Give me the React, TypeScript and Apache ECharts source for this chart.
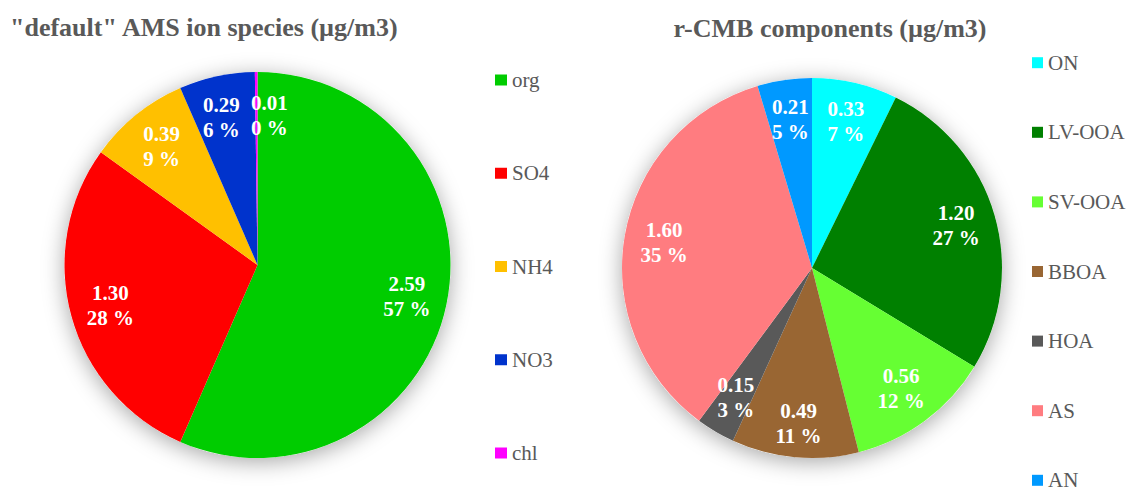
import React, { useEffect, useRef } from "react";
import * as echarts from "echarts";

const leftTitle = '"default" AMS ion species (µg/m3)';
const leftNames = ["org", "SO4", "NH4", "NO3", "chl"];
const leftValues = [2.59, 1.3, 0.39, 0.29, 0.01];
const leftPercents = [57, 28, 9, 6, 0];
const leftColors = ["#00CC00", "#FF0000", "#FFC000", "#0033CC", "#FF00FF"];

const rightTitle = "r-CMB components (µg/m3)";
const rightNames = ["ON", "LV-OOA", "SV-OOA", "BBOA", "HOA", "AS", "AN"];
const rightValues = [0.33, 1.2, 0.56, 0.49, 0.15, 1.6, 0.21];
const rightPercents = [7, 27, 12, 11, 3, 35, 5];
const rightColors = ["#00FFFF", "#008000", "#66FF33", "#996633", "#595959", "#FF7C80", "#0099FF"];

const SERIF = "Liberation Serif";
const GREY = "#595959";
const LABEL_RADIUS = 0.79;

// label nudges (style only), keyed by category name
const labelNudge: Record<string, number[]> = {
  NO3: [-4, 2],
  chl: [13, 3],
  BBOA: [0, 6],
};

function sum(a: number[]) {
  return a.reduce((s, v) => s + v, 0);
}

function buildPie(
  idx: number,
  names: string[],
  values: number[],
  percents: number[],
  colors: string[]
) {
  const center = idx === 0 ? [257.5, 265] : [812, 268];
  const radius = idx === 0 ? 193 : 190;
  const bg = {
    type: "pie",
    name: "bg" + idx,
    center,
    radius: [0, radius],
    silent: true,
    z: 1,
    label: { show: false },
    labelLine: { show: false },
    data: [
      {
        name: "",
        value: 1,
        itemStyle: {
          color: "#ffffff",
          shadowBlur: 22,
          shadowColor: "rgba(0,0,0,0.35)",
          shadowOffsetY: 4,
        },
      },
    ],
  };
  const main = {
    type: "pie",
    center,
    radius: [0, radius],
    startAngle: 90,
    clockwise: true,
    z: 2,
    silent: true,
    label: { show: false },
    labelLine: { show: false },
    data: names.map((n, i) => ({
      name: n,
      value: values[i],
      itemStyle: { color: colors[i] },
    })),
  };
  // label anchors placed through a hidden polar coordinate system sharing the pie's geometry
  let cum = 0;
  const anchors = values.map((v, i) => {
    const mid = cum + v / 2;
    cum += v;
    const nudge = labelNudge[names[i]] || [0, 0];
    return {
      value: [LABEL_RADIUS, mid],
      label: { offset: nudge },
    };
  });
  const labels = {
    type: "scatter",
    coordinateSystem: "polar",
    polarIndex: idx,
    symbolSize: 1,
    z: 3,
    silent: true,
    itemStyle: { color: "rgba(0,0,0,0)", opacity: 1 },
    label: {
      show: true,
      position: "inside",
      color: "#ffffff",
      textBorderWidth: 0,
      fontFamily: SERIF,
      fontWeight: "bold",
      fontSize: 21,
      lineHeight: 25,
      formatter: (p: any) =>
        values[p.dataIndex].toFixed(2) + "\n" + percents[p.dataIndex] + " %",
    },
    data: anchors,
  };
  return [bg, main, labels];
}

export default function App() {
  const ref = useRef<HTMLDivElement>(null);
  useEffect(() => {
    if (!ref.current) return;
    const chart = echarts.init(ref.current, undefined, { renderer: "svg" });
    const legendText = {
      fontFamily: SERIF,
      fontSize: 21,
      color: GREY,
    };
    const titleText = {
      fontFamily: SERIF,
      fontWeight: "bold",
      fontSize: 26,
      lineHeight: 30,
      color: GREY,
    };
    chart.setOption({
      animation: false,
      backgroundColor: "#ffffff",
      textStyle: { fontFamily: SERIF },
      title: [
        { text: leftTitle, left: 10, top: 12, padding: 0, textStyle: titleText },
        { text: rightTitle, left: 830, textAlign: "center", top: 13, padding: 0, textStyle: titleText },
      ],
      polar: [
        { center: [257.5, 265], radius: 193 },
        { center: [812, 268], radius: 190 },
      ],
      angleAxis: [
        { polarIndex: 0, type: "value", min: 0, max: sum(leftValues), startAngle: 90, clockwise: true, show: false },
        { polarIndex: 1, type: "value", min: 0, max: sum(rightValues), startAngle: 90, clockwise: true, show: false },
      ],
      radiusAxis: [
        { polarIndex: 0, type: "value", min: 0, max: 1, show: false },
        { polarIndex: 1, type: "value", min: 0, max: 1, show: false },
      ],
      legend: [
        {
          data: leftNames,
          orient: "vertical",
          left: 495,
          top: 69.5,
          height: 460,
          padding: 0,
          icon: "rect",
          itemWidth: 12,
          itemHeight: 11,
          itemGap: 72.25,
          selectedMode: false,
          textStyle: legendText,
        },
        {
          data: rightNames,
          orient: "vertical",
          left: 1032,
          top: 52.2,
          height: 460,
          padding: 0,
          icon: "rect",
          itemWidth: 11,
          itemHeight: 11,
          itemGap: 48.6,
          selectedMode: false,
          textStyle: legendText,
        },
      ],
      series: [
        ...buildPie(0, leftNames, leftValues, leftPercents, leftColors),
        ...buildPie(1, rightNames, rightValues, rightPercents, rightColors),
      ],
    });
    return () => chart.dispose();
  }, []);
  return (
    <div
      ref={ref}
      style={{ position: "fixed", left: 0, top: 0, width: 1133, height: 488 }}
    />
  );
}
